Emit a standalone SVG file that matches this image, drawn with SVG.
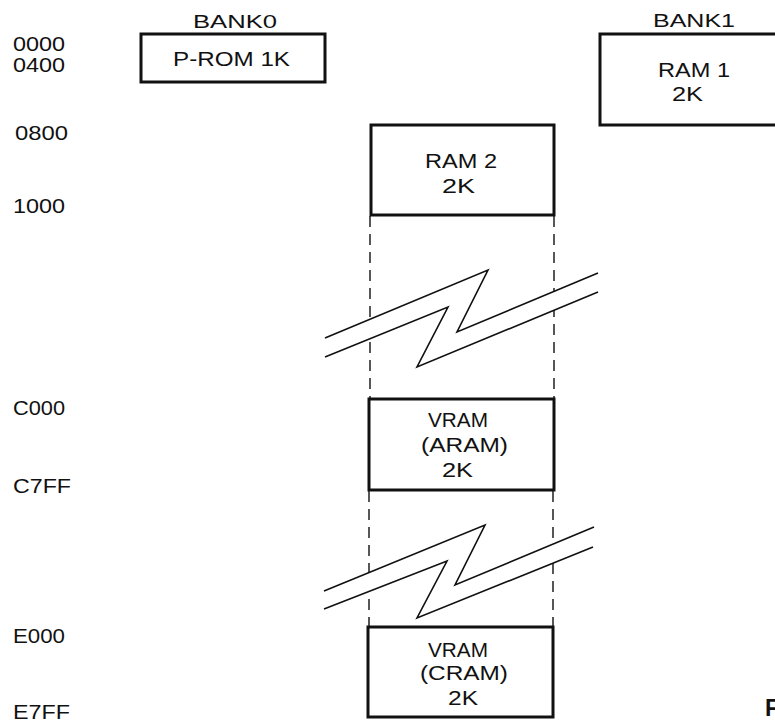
<svg xmlns="http://www.w3.org/2000/svg" width="775" height="723" viewBox="0 0 775 723">
<style>
text{font-family:"Liberation Sans",Arial,sans-serif;fill:#111;}
.addr{font-size:20px;}
.bank{font-size:19px;}
.lbl{font-size:20px;}
.box{fill:none;stroke:#111;stroke-width:3;}
.dash{stroke:#111;stroke-width:1.4;stroke-dasharray:11 7;fill:none;}
.brk{stroke:#111;stroke-width:1.6;fill:none;stroke-linejoin:miter;}
.mask{fill:#fff;stroke:none;}
</style>
<rect width="775" height="723" fill="#fff"/>
<g id="addresses">
<text class="addr" x="13" y="51" textLength="52" lengthAdjust="spacingAndGlyphs">0000</text>
<text class="addr" x="13" y="72" textLength="52" lengthAdjust="spacingAndGlyphs">0400</text>
<text class="addr" x="15" y="140" textLength="53" lengthAdjust="spacingAndGlyphs">0800</text>
<text class="addr" x="13" y="213" textLength="52" lengthAdjust="spacingAndGlyphs">1000</text>
<text class="addr" x="13" y="415" textLength="52" lengthAdjust="spacingAndGlyphs">C000</text>
<text class="addr" x="13" y="493" textLength="58" lengthAdjust="spacingAndGlyphs">C7FF</text>
<text class="addr" x="13" y="643" textLength="52" lengthAdjust="spacingAndGlyphs">E000</text>
<text class="addr" x="13" y="719" textLength="57" lengthAdjust="spacingAndGlyphs">E7FF</text>
</g>
<g id="bank-labels">
<text class="bank" x="193" y="28" textLength="84" lengthAdjust="spacingAndGlyphs">BANK0</text>
<text class="bank" x="653" y="27" textLength="82" lengthAdjust="spacingAndGlyphs">BANK1</text>
</g>
<g id="connectors">
<line class="dash" x1="370" y1="216" x2="370" y2="398"/>
<line class="dash" x1="554" y1="216" x2="554" y2="398"/>
<line class="dash" x1="369" y1="491" x2="369" y2="627"/>
<line class="dash" x1="553" y1="491" x2="553" y2="627"/>
<polygon class="mask" points="325,338 488,270 457,332 598,273 598,292 417,367 448,307 325,357"/>
<polygon class="mask" points="324,591 485,525 455,585 594,527 593,547 417,618 447,561 324,609"/>
<polyline class="brk" points="325,338 488,270 457,332 598,273"/>
<polyline class="brk" points="325,357 448,307 417,367 598,292"/>
<polyline class="brk" points="324,591 485,525 455,585 594,527"/>
<polyline class="brk" points="324,609 447,561 417,618 593,547"/>
</g>
<g id="prom">
<rect class="box" x="141" y="34" width="184" height="48"/>
<text class="lbl" x="173" y="66" textLength="117" lengthAdjust="spacingAndGlyphs">P-ROM 1K</text>
</g>
<g id="ram1">
<rect class="box" x="600" y="34" width="190" height="91"/>
<text class="lbl" x="658" y="77" textLength="72" lengthAdjust="spacingAndGlyphs">RAM 1</text>
<text class="lbl" x="672" y="101" textLength="31" lengthAdjust="spacingAndGlyphs">2K</text>
</g>
<g id="ram2">
<rect class="box" x="371" y="125" width="183" height="90"/>
<text class="lbl" x="425" y="168" textLength="72" lengthAdjust="spacingAndGlyphs">RAM 2</text>
<text class="lbl" x="442" y="193" textLength="33" lengthAdjust="spacingAndGlyphs">2K</text>
</g>
<g id="vram-aram">
<rect class="box" x="369" y="399" width="185" height="91"/>
<text class="lbl" x="428" y="427" textLength="60" lengthAdjust="spacingAndGlyphs">VRAM</text>
<text class="lbl" x="421" y="452" textLength="87" lengthAdjust="spacingAndGlyphs">(ARAM)</text>
<text class="lbl" x="442" y="477" textLength="31" lengthAdjust="spacingAndGlyphs">2K</text>
</g>
<g id="vram-cram">
<rect class="box" x="368" y="627" width="185" height="90"/>
<text class="lbl" x="428" y="657" textLength="60" lengthAdjust="spacingAndGlyphs">VRAM</text>
<text class="lbl" x="420" y="680" textLength="88" lengthAdjust="spacingAndGlyphs">(CRAM)</text>
<text class="lbl" x="448" y="705" textLength="30" lengthAdjust="spacingAndGlyphs">2K</text>
</g>
<g id="caption">
<text x="765" y="716" style="font-size:23px;font-weight:bold">F</text>
</g>
</svg>
